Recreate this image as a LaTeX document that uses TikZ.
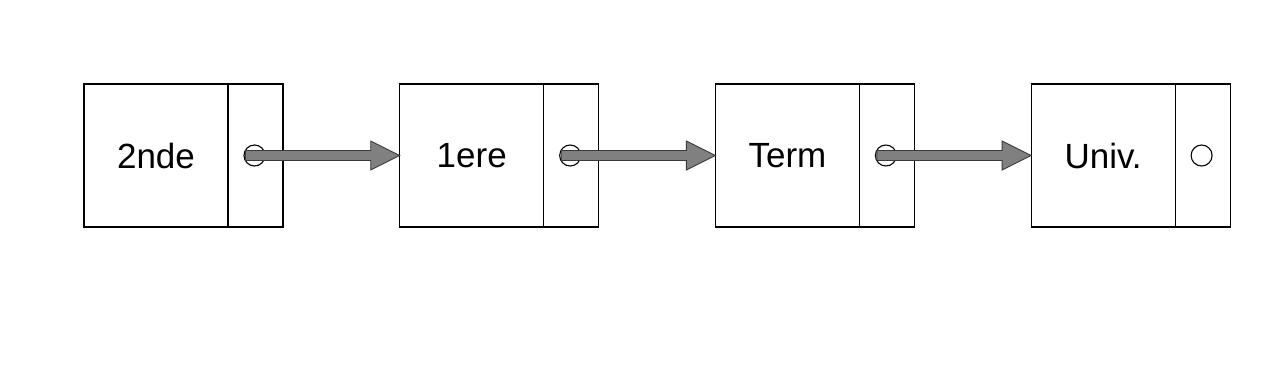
\documentclass[tikz,border=0pt]{standalone}
\usepackage{fontspec}
\setmainfont{Liberation Sans}
\usetikzlibrary{calc,positioning}

\definecolor{arrowgray}{HTML}{808080}
\definecolor{arrowline}{HTML}{3A3A3A}

% fat gray arrow from a dot to the next record
\newcommand\fatarrow[2]{%
  \path[fatarrow] let \p1=(#1), \p2=(#2.west) in
    (\x1-9pt,\y1+5pt) -- (\x2-29pt,\y1+5pt) -- (\x2-29pt,\y1+14.5pt)
    -- (\x2,\y1) -- (\x2-29pt,\y1-14.5pt) -- (\x2-29pt,\y1-5pt)
    -- (\x1-9pt,\y1-5pt) -- cycle;}

\begin{document}
\begin{tikzpicture}[
  x=1pt, y=1pt,
  node distance=0pt and 116.7pt,
  namecell/.style={draw, line width=1.1pt, minimum width=144pt, minimum height=143pt,
                   outer sep=0pt, inner sep=0pt, font=\fontsize{35}{40}\selectfont},
  ptrcell/.style={draw, line width=1.1pt, minimum width=55pt, minimum height=143pt,
                  outer sep=0pt, inner sep=0pt},
  dot/.style={circle, draw, line width=1.1pt, minimum size=21pt, inner sep=0pt},
  fatarrow/.style={draw=arrowline, fill=arrowgray, line width=0.9pt, line join=miter}
]
\useasboundingbox (0,0) rectangle (1278,-386);

\node[namecell] (c1) at (156,-155.5) {2nde};
\node[ptrcell, right=0pt of c1] (p1) {};
\node[dot] (d1) at ([xshift=-1pt]p1.center) {};

\node[namecell, right=of p1] (c2) {1ere};
\node[ptrcell, right=0pt of c2] (p2) {};
\node[dot] (d2) at ([xshift=-1pt]p2.center) {};

\node[namecell, right=of p2] (c3) {Term};
\node[ptrcell, right=0pt of c3] (p3) {};
\node[dot] (d3) at ([xshift=-1pt]p3.center) {};

\node[namecell, right=of p3] (c4) {Univ.};
\node[ptrcell, right=0pt of c4] (p4) {};
\node[dot] (d4) at ([xshift=-1pt]p4.center) {};

\fatarrow{d1}{c2}
\fatarrow{d2}{c3}
\fatarrow{d3}{c4}
\end{tikzpicture}
\end{document}
